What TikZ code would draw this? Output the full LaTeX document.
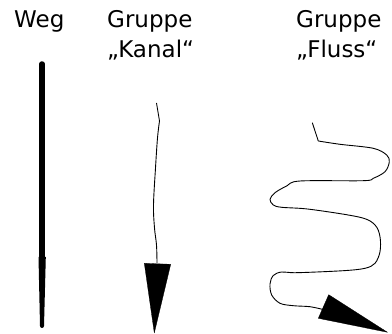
\documentclass[tikz,border=0pt]{standalone}
\usepackage{fontspec}
\setmainfont{DejaVu Sans}
\begin{document}
\begin{tikzpicture}[x=1pt,y=-1pt,
  lbl/.style={anchor=base west,inner sep=0pt,font=\fontsize{23}{27}\selectfont},
  thin/.style={line width=0.9pt,line join=round},
  tipfill/.style={fill=black,draw=black,line width=0.3pt,line join=round}]
\useasboundingbox (0,0) rectangle (392,334);
% labels
\node[lbl] (weg) at (14,28) {Weg};
\node[lbl] (g1) at (107,28) {Gruppe};
\node[lbl] (k) at (107,58) {„Kanal“};
\node[lbl] (g2) at (296,28) {Gruppe};
\node[lbl] (f) at (296,58) {„Fluss“};
% Weg
\coordinate (wtop) at (42,64);
\coordinate (wmid) at (42,258);
\draw[line width=5.5pt,line cap=round] (wtop) -- (wmid);
\fill (38.5,257) -- (45.8,257) -- (44,326) arc[start angle=0,end angle=180,radius=2] -- cycle;
% Kanal
\coordinate (ks) at (156.5,103);
\coordinate (kk) at (159.5,121);
\coordinate (ke) at (157,263);
\draw[thin] (ks) -- (kk);
\draw[thin] plot[smooth,tension=0.6] coordinates {(159.5,121) (157.5,138) (155.5,168) (153.5,205) (154.5,228) (156.5,245) (157,263)};
\fill[tipfill] (144.3,263.3) -- (170.7,264.3) -- (154.3,333) -- cycle;
% Fluss
\coordinate (fs) at (312.3,122.7);
\coordinate (fk) at (318.3,141);
\draw[thin] (fs) -- (fk);
\draw[thin] plot[smooth,tension=0.55] coordinates {
 (318.3,141) (340,144.3) (373.3,148.3) (386.7,155) (389.3,162) (385,171.7)
 (373.3,178.3) (363.3,180.7) (300,181) (286.7,186) (275,192.7) (270,199.3)
 (273.3,205) (281.7,207.3) (310,209.3) (360,217.3) (375,225) (380,236.7)
 (380,251.7) (375,263.3) (365,268.3) (343.3,270.7) (296.7,272.7) (281.7,272)
 (273.3,275.5) (270,284) (271.7,295) (280,303.3) (293.3,305.7) (310,306.7) (323,309.5)};
\fill[tipfill] (328.7,294.7) -- (318.3,318.3) -- (387.5,332.3) -- cycle;
\end{tikzpicture}
\end{document}
